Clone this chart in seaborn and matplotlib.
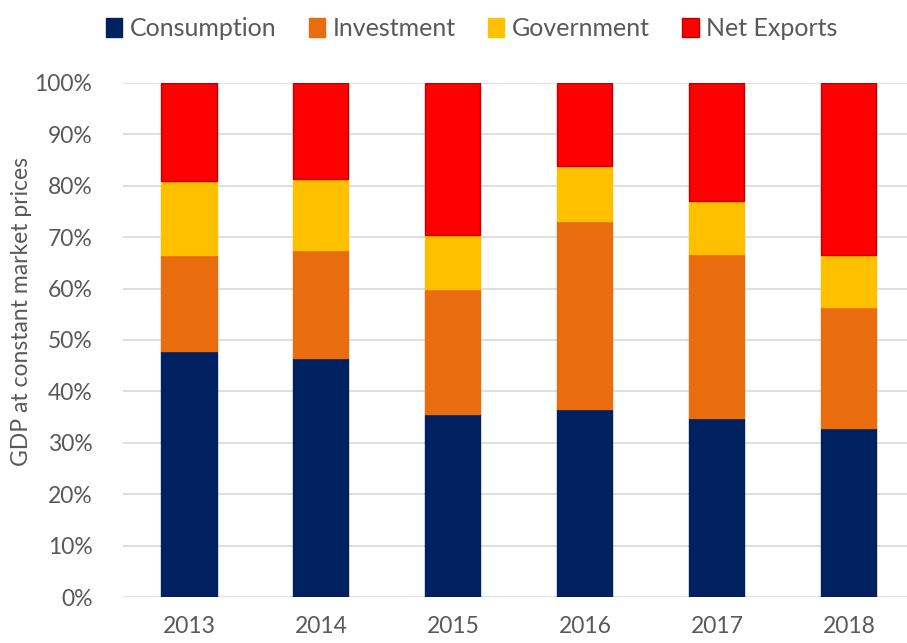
import pandas as pd
import matplotlib
matplotlib.use('Agg')
import matplotlib.pyplot as plt
import seaborn as sns
from matplotlib.patches import Patch
from matplotlib.ticker import PercentFormatter

years = ['2013', '2014', '2015', '2016', '2017', '2018']
consumption = [47.9, 46.5, 35.6, 36.6, 34.8, 32.9]
investment = [18.6, 21.0, 24.3, 36.6, 31.9, 23.5]
government = [14.4, 13.8, 10.5, 10.7, 10.3, 10.1]
net_exports = [19.1, 18.7, 29.6, 16.1, 23.0, 33.5]

series = ['Consumption', 'Investment', 'Government', 'Net Exports']
colors = ['#002060', '#E96C0E', '#FFC000', '#FF0000']
edges = ['#002060', '#E96C0E', '#FFC000', '#C00000']

df = pd.DataFrame({'year': years, 'Consumption': consumption, 'Investment': investment,
                   'Government': government, 'Net Exports': net_exports})
for s in series:
    df[s] = df[s] / 100.0

sns.set_style('white')
plt.rcParams['font.family'] = ['Lato', 'DejaVu Sans']

fig = plt.figure(figsize=(9.07, 6.43), dpi=100)
ax = fig.add_axes([0.1356, 0.0715, 0.8644, 0.7995])

bottom = pd.Series([0.0] * len(years))
for s, c, e in zip(series, colors, edges):
    sns.barplot(data=df, x='year', y=s, color=c, width=0.417, ax=ax,
                bottom=bottom.values, edgecolor=e, linewidth=1.0, saturation=1)
    bottom = bottom + df[s]

ax.set_ylim(0, 1)
ax.set_xlim(-0.5, 5.44)
ax.set_yticks([i / 10 for i in range(11)])
ax.yaxis.set_major_formatter(PercentFormatter(1.0, decimals=0))
ax.yaxis.grid(True, color='#D9D9D9', linewidth=1.2)
ax.set_axisbelow(True)
for sp in ax.spines.values():
    sp.set_visible(False)
ax.tick_params(axis='both', length=0, labelsize=16.5, colors='#595959')
ax.tick_params(axis='x', pad=14)
ax.tick_params(axis='y', pad=22)
ax.set_xlabel('')
ax.set_ylabel('GDP at constant market prices', fontsize=16.5, color='#595959')
ax.yaxis.set_label_coords(-0.116, 0.555)

handles = [Patch(facecolor=c, edgecolor=e) for c, e in zip(colors, edges)]
fig.legend(handles, series, loc='upper center', bbox_to_anchor=(0.52, 1.008), ncol=4,
           frameon=False, fontsize=18, handlelength=0.65, handleheight=0.75,
           handletextpad=0.3, columnspacing=1.3, labelcolor='#595959')

fig.savefig('out.png', dpi=100)
